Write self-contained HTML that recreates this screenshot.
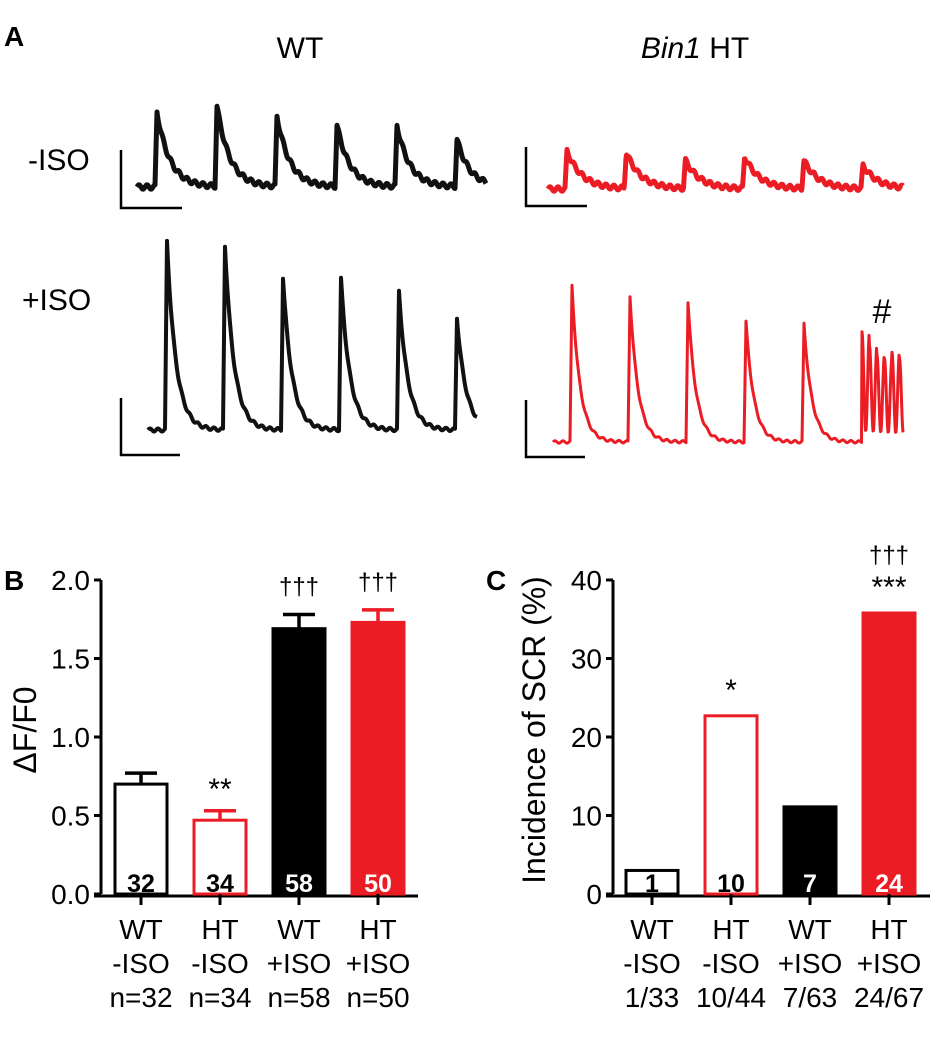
<!DOCTYPE html>
<html><head><meta charset="utf-8"><style>
html,body{margin:0;padding:0;background:#fff}
svg{display:block;font-family:"Liberation Sans",Arial,sans-serif}
</style></head><body>
<svg id="fig" width="940" height="1050" viewBox="0 0 940 1050">
<g>
<text x="4" y="46" font-size="28" font-weight="bold">A</text>
<text x="300" y="58" font-size="30" text-anchor="middle">WT</text>
<text x="695" y="58" font-size="30" text-anchor="middle"><tspan font-style="italic">Bin1</tspan> HT</text>
<text x="28" y="170" font-size="30">-ISO</text>
<text x="22" y="310" font-size="30">+ISO</text>
<text x="882" y="323" font-size="34" text-anchor="middle">#</text>
<g id="traces"></g>
</g>
<g id="panelB">
<text x="4" y="590" font-size="28" font-weight="bold">B</text>
</g>
<g id="panelC">
<text x="486" y="590" font-size="28" font-weight="bold">C</text>
</g>
</svg>
<script>
// ---- Panel B data ----
const catB1 = ["WT","HT","WT","HT"];
const catB2 = ["-ISO","-ISO","+ISO","+ISO"];
const catB3 = ["n=32","n=34","n=58","n=50"];
const valuesB = [0.70, 0.47, 1.69, 1.73];
const errorsB = [0.07, 0.06, 0.09, 0.08];
const countsB = ["32","34","58","50"];
const sigB = ["","**","†††","†††"];
const ticksB = [0, 0.5, 1.0, 1.5, 2.0];
const tickLabelsB = ["0.0","0.5","1.0","1.5","2.0"];
// ---- Panel C data ----
const catC3 = ["1/33","10/44","7/63","24/67"];
const valuesC = [3.0, 22.7, 11.1, 35.8];
const countsC = ["1","10","7","24"];
const sigC1 = ["","*","","***"];
const sigC2 = ["","","","†††"];
const ticksC = [0,10,20,30,40];
// ---- Trace data (peak amplitudes, px above baseline) ----
const peaksWTm = [75,80,70,61,61,47];
const peaksWTp = [188,184,152,151,138,112];
const peaksHTm = [38,36,28,32,28,23];
const peaksHTp = [156,146,140,120,118];
const burstHTp = [111,97,87,83,89,83];

const NS="http://www.w3.org/2000/svg";
const RED="#ec1c24";
function el(tag, attrs, parent){const e=document.createElementNS(NS,tag);for(const k in attrs)e.setAttribute(k,attrs[k]);parent.appendChild(e);return e;}

function barChart(g, cfg){
  const y = v => cfg.y0 - (v - 0)/cfg.max*(cfg.y0-cfg.yTop);
  const ax = el("path",{d:`M${cfg.ax} ${cfg.yTop} V${cfg.y0} M${cfg.ax-7} ${cfg.y0+2} H${cfg.axEnd}`,stroke:"#000","stroke-width":3,fill:"none"},g);
  
  
  cfg.ticks.forEach((t,i)=>{
    const tk=el("line",{x1:cfg.ax-7,x2:cfg.ax,y1:y(t),y2:y(t),stroke:"#000","stroke-width":3},g);
    
    
    const tl=el("text",{x:cfg.ax-11,y:y(t)+10,"font-size":28,"text-anchor":"end"},g);
    tl.textContent=cfg.tickLabels[i];
    
    
  });
  const yt=el("text",{x:0,y:0,"font-size":cfg.titleSize,"text-anchor":"middle",transform:`translate(${cfg.titleX},730) rotate(-90)`},g);
  yt.textContent=cfg.title;
  
  
  const styles=[{f:"#fff",s:"#000",t:"#000"},{f:"#fff",s:RED,t:"#000"},{f:"#000",s:"#000",t:"#fff"},{f:RED,s:RED,t:"#fff"}];
  cfg.values.forEach((v,i)=>{
    const cx=cfg.x0+i*cfg.step, w=52, st=styles[i];
    const top=y(v);
    if(cfg.errors){
      const e=el("path",{d:`M${cx} ${top} V${y(v+cfg.errors[i])} M${cx-16} ${y(v+cfg.errors[i])} H${cx+16}`,stroke:st.s,"stroke-width":3.5,fill:"none"},g);
      
      
    }
    const r=el("rect",{x:cx-w/2,y:top,width:w,height:cfg.y0-top,fill:st.f,stroke:st.s,"stroke-width":3},g);
    
    
    const c=el("text",{x:cx,y:cfg.y0-2,"font-size":25,"font-weight":"bold","text-anchor":"middle",fill:st.t},g);
    c.textContent=cfg.counts[i];
    
    
    const tk=el("line",{x1:cx,x2:cx,y1:cfg.y0,y2:cfg.y0+11,stroke:"#000","stroke-width":3},g);
    
    
    [cfg.c1[i],cfg.c2[i],cfg.c3[i]].forEach((s,j)=>{
      const t=el("text",{x:cx,y:939+j*34,"font-size":28,"text-anchor":"middle"},g);
      t.textContent=s;
      
      
    });
    cfg.sigs.forEach((arr,j)=>{
      if(!arr[i])return;
      const base=cfg.errors? y(v+cfg.errors[i]) : top;
      const t=el("text",{x:cx,y:base-cfg.sigOff[j]-(arr[i][0]==='*'?-8:0),"font-size":arr[i][0]==='*'?30:24,"text-anchor":"middle"},g);
      t.textContent=arr[i];
      
      
    });
  });
}
barChart(document.getElementById("panelB"),{ax:101,axEnd:418,y0:894,yTop:580,max:2,ticks:ticksB,tickLabels:tickLabelsB,title:"ΔF/F0",titleX:36,titleSize:32,
  values:valuesB,errors:errorsB,counts:countsB,x0:141,step:79,c1:catB1,c2:catB2,c3:catB3,sigs:[sigB],sigOff:[20]});
barChart(document.getElementById("panelC"),{ax:613,axEnd:930,y0:894,yTop:580,max:40,ticks:ticksC,tickLabels:ticksC.map(String),title:"Incidence of SCR (%)",titleX:545,titleSize:32,
  values:valuesC,errors:null,counts:countsC,x0:652,step:79,c1:catB1,c2:catB2,c3:catC3,sigs:[sigC1,sigC2],sigOff:[24,50]});

// ---- traces ----
function trace(g, x0, x1, base, peakXs, amps, color, ripple, decay, burst, sw){
  let d="", started=false;
  for(let x=x0;x<=x1;x+=0.5){
    let v=0;
    peakXs.forEach((px,i)=>{
      const dx=x-px;
      if(dx>=-2&&dx<0) v+=amps[i]*(dx+2)/2;
      else if(dx>=0&&dx<70) v+=amps[i]*Math.exp(-dx/decay);
    });
    if(burst&&x>=burst.x){
      const k=Math.floor((x-burst.x)/burst.p), ph=((x-burst.x)%burst.p)/burst.p;
      const a=burst.amps[Math.min(k,burst.amps.length-1)];
      v=burst.lo+(a-burst.lo)*(0.5+0.5*Math.cos(ph*2*Math.PI));
    }
    v+=ripple*Math.sin((x-x0)*2*Math.PI/8);
    d+=(started?"L":"M")+x.toFixed(1)+" "+(base-v).toFixed(1);
    started=true;
  }
  const p=el("path",{d:d,stroke:color,"stroke-width":sw,fill:"none","stroke-linejoin":"round"},g);
  return p;
}
function scaleBar(g,x,y1,y2,x2){
  const s=el("path",{d:`M${x} ${y1} V${y2} H${x2}`,stroke:"#000","stroke-width":2.5,fill:"none"},g);
  
  
}
const tg=document.getElementById("traces");
scaleBar(tg,121,150,208,182);
scaleBar(tg,121,398,455,180);
scaleBar(tg,526,147,206,587);
scaleBar(tg,526,400,457,585);
const step=60, step2=58;
let t;
t=trace(tg,137,486,187,peaksWTm.map((_,i)=>157+i*step),peaksWTm,"#111",2.2,13,null,5);


t=trace(tg,148,477,430,peaksWTp.map((_,i)=>167+i*step2),peaksWTp,"#111",1.5,9,null,4);


t=trace(tg,548,903,189,peaksHTm.map((_,i)=>567+i*59.2),peaksHTm,RED,2.2,15,null,5);


t=trace(tg,553,903,442,peaksHTp.map((_,i)=>572+i*58),peaksHTp,RED,1.2,8,{x:862,p:7.5,amps:burstHTp,lo:10},3);


</script>
</body></html>
